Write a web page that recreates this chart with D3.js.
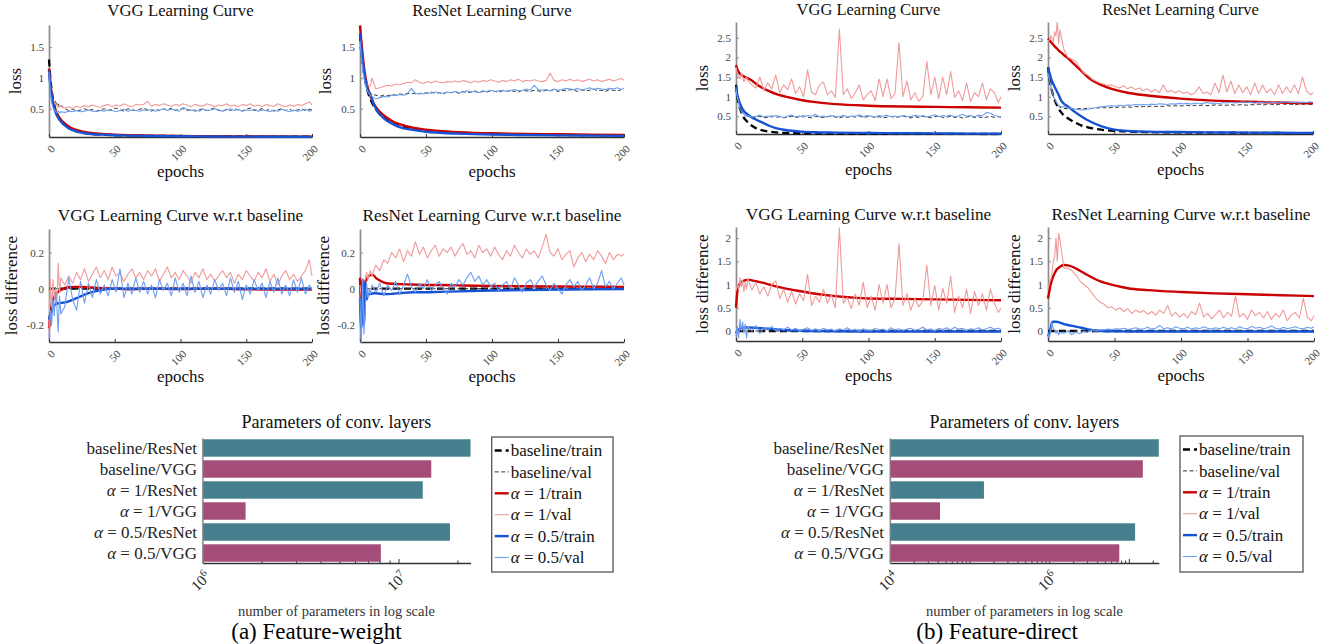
<!DOCTYPE html>
<html><head><meta charset="utf-8">
<script src="https://cdn.jsdelivr.net/npm/d3@7"></script>
<style>
body{margin:0;background:#fff;}
svg{display:block;font-family:"Liberation Serif","Times New Roman",serif;}
text{white-space:pre;}
</style></head><body>
<svg id="c" width="1325" height="644"></svg>
<script>
// ---------------- DATA ----------------
const trainEpochs = [0,1,2,3,4,5,6,8,10,12,15,20,25,30,40,50,60,75,100,125,150,175,200];
const valEpochs = [0,1,2,3,4,5,6,7,8,9,12,15,18,21,24,27,30,33,36,39,42,45,48,51,54,57,60,63,66,69,72,75,78,81,84,87,90,93,96,99,102,105,108,111,114,117,120,123,126,129,132,135,138,141,144,147,150,153,156,159,162,165,168,171,174,177,180,183,186,189,192,195,198,200];
const diffBaseEpochs = [0,200];
const diffBaseValues = [0,0];
const xTickValues = [0,50,100,150,200];

// (a) Feature-weight, VGG
const fwVggTrainBase = [1.3,1.0,0.8,0.66,0.56,0.48,0.42,0.34,0.28,0.24,0.19,0.14,0.11,0.095,0.08,0.07,0.065,0.06,0.055,0.05,0.048,0.046,0.045];
const fwVggTrainA1 = [1.15,0.92,0.75,0.63,0.54,0.47,0.42,0.35,0.3,0.26,0.21,0.16,0.13,0.11,0.09,0.078,0.07,0.063,0.057,0.052,0.049,0.047,0.045];
const fwVggTrainA05 = [1.12,0.88,0.72,0.6,0.51,0.44,0.39,0.32,0.27,0.23,0.18,0.135,0.11,0.093,0.078,0.068,0.062,0.057,0.052,0.048,0.046,0.044,0.042];
const fwVggValBase = [1.1,0.85,0.7,0.65,0.6,0.62,0.55,0.58,0.52,0.55, 0.50,0.47,0.49,0.46,0.48,0.50,0.47,0.49,0.46,0.48, 0.50,0.47,0.49,0.51,0.48,0.46,0.50,0.48,0.47,0.49, 0.51,0.48,0.46,0.49,0.47,0.50,0.48,0.51,0.47,0.49, 0.50,0.47,0.49,0.46,0.48,0.50,0.47,0.49,0.51,0.48, 0.46,0.49,0.47,0.50,0.48,0.46,0.49,0.51,0.47,0.48, 0.50,0.47,0.49,0.46,0.48,0.50,0.47,0.49,0.46,0.48, 0.50,0.47,0.49,0.48];
const fwVggValA1 = [1.1,0.8,0.75,0.65,0.6,0.58,0.55,0.52,0.55,0.53, 0.51,0.53,0.50,0.54,0.52,0.55,0.53,0.56,0.54,0.52, 0.55,0.57,0.53,0.56,0.54,0.58,0.55,0.53,0.57,0.56, 0.57,0.62,0.54,0.57,0.55,0.58,0.56,0.54,0.57,0.55, 0.58,0.56,0.53,0.57,0.55,0.54,0.58,0.56,0.53,0.56, 0.55,0.58,0.54,0.56,0.53,0.57,0.55,0.58,0.54,0.56, 0.53,0.57,0.55,0.54,0.58,0.55,0.53,0.56,0.54,0.57, 0.55,0.58,0.61,0.56];
const fwVggValA05 = [1.1,0.75,0.6,0.52,0.48,0.45,0.44,0.46,0.43,0.45, 0.44,0.46,0.45,0.47,0.45,0.46,0.48,0.46,0.45,0.47, 0.46,0.48,0.47,0.45,0.47,0.49,0.46,0.48,0.47,0.46, 0.48,0.47,0.49,0.46,0.48,0.50,0.47,0.49,0.48,0.46, 0.52,0.49,0.47,0.48,0.46,0.49,0.47,0.48,0.50,0.47, 0.46,0.48,0.50,0.47,0.49,0.46,0.48,0.47,0.49,0.46, 0.48,0.47,0.45,0.48,0.46,0.49,0.47,0.45,0.48,0.46, 0.47,0.49,0.46,0.47];

// (a) Feature-weight, ResNet
const fwResTrainBase = [1.7,1.45,1.25,1.08,0.95,0.85,0.77,0.65,0.56,0.49,0.41,0.32,0.26,0.22,0.17,0.14,0.12,0.105,0.09,0.08,0.075,0.07,0.065];
const fwResTrainA1 = [1.85,1.6,1.38,1.18,1.03,0.92,0.83,0.7,0.6,0.53,0.45,0.36,0.29,0.25,0.19,0.16,0.14,0.12,0.1,0.09,0.085,0.078,0.072];
const fwResTrainA05 = [1.72,1.5,1.3,1.12,0.98,0.87,0.78,0.73,0.6,0.5,0.41,0.31,0.25,0.2,0.155,0.125,0.11,0.095,0.08,0.072,0.066,0.062,0.058];
const fwResValBase = [1.5,1.3,1.15,1.0,0.9,0.85,0.8,0.78,0.75,0.73, 0.72,0.70,0.72,0.71,0.73,0.72,0.74,0.73,0.75,0.74, 0.75,0.74,0.76,0.75,0.77,0.75,0.76,0.74,0.77,0.76, 0.77,0.75,0.78,0.76,0.77,0.79,0.76,0.78,0.77,0.79, 0.78,0.77,0.79,0.78,0.80,0.78,0.77,0.80,0.79,0.78, 0.80,0.79,0.78,0.80,0.79,0.81,0.78,0.80,0.79,0.81, 0.80,0.78,0.81,0.79,0.80,0.82,0.79,0.80,0.78,0.81, 0.80,0.79,0.81,0.80];
const fwResValA1 = [1.6,1.4,1.2,1.1,0.98,0.92,0.88,0.86,0.88,1.0, 0.82,0.84,0.86,0.88,0.87,0.90,0.89,0.91,0.93,0.92, 0.97,0.93,0.91,0.94,0.92,0.95,0.93,0.92,0.94,0.93, 0.95,0.93,0.96,0.94,0.92,0.95,0.93,0.96,0.94,0.97, 0.95,0.93,0.96,0.94,0.97,0.95,0.98,0.94,0.96,0.95, 0.97,0.95,0.94,0.96,1.08,0.96,0.94,0.97,0.95,0.98, 0.95,0.97,0.94,0.96,0.98,0.95,0.97,0.94,0.96,0.98, 0.95,0.97,0.99,0.96];
const fwResValA05 = [1.6,1.35,1.15,1.0,0.9,0.82,0.77,0.75,0.72,0.7, 0.66,0.68,0.70,0.69,0.72,0.71,0.73,0.72,0.74,0.83, 0.74,0.75,0.74,0.76,0.75,0.77,0.76,0.75,0.77,0.76, 0.78,0.76,0.77,0.79,0.77,0.78,0.76,0.79,0.78,0.80, 0.78,0.79,0.80,0.78,0.79,0.81,0.79,0.80,0.82,0.80, 0.88,0.81,0.80,0.81,0.79,0.82,0.80,0.81,0.83,0.82, 0.81,0.83,0.80,0.82,0.84,0.81,0.83,0.82,0.81,0.83, 0.82,0.84,0.81,0.83];

// (a) Feature-weight, differences w.r.t. baseline
const fwVggDiffTrainA1 = [-0.22,-0.14,-0.09,-0.06,-0.045,-0.035,-0.025,-0.012,-0.004,0.003,0.008,0.01,0.01,0.008,0.002,0,-0.003,0,-0.002,0,-0.003,-0.005,-0.005];
const fwVggDiffTrainA05 = [-0.17,-0.14,-0.12,-0.1,-0.092,-0.087,-0.083,-0.08,-0.078,-0.076,-0.07,-0.055,-0.04,-0.025,-0.008,0,0,0,0,0,0,0,0];
const fwVggDiffValA1 = [-0.24,0.05,-0.12,0.05,-0.05,0.0,-0.08,0.14,-0.02,0.06, 0.02,0.07,0.03,0.09,0.05,0.11,0.04,0.08,0.12,0.06, 0.1,0.05,0.12,0.07,0.09,0.04,0.08,0.11,0.06,0.09, 0.05,0.1,0.07,0.11,0.04,0.08,0.12,0.06,0.09,0.05, 0.1,0.07,0.03,0.09,0.06,0.11,0.05,0.08,0.04,0.07, 0.1,0.06,0.09,0.03,0.08,0.05,0.1,0.07,0.04,0.09, 0.06,0.11,0.04,0.08,0.02,0.07,0.1,0.05,0.08,0.04, 0.07,0.1,0.16,0.07];
const fwVggDiffValA05 = [-0.28,-0.12,-0.2,-0.06,-0.15,-0.02,-0.1,-0.24,-0.04,-0.14, -0.1,0.06,-0.06,-0.12,0.04,-0.08,0.03,-0.05,0.05,-0.03, 0.02,-0.04,0.05,-0.02,0.11,-0.05,0.03,-0.03,0.06,-0.02, 0.04,-0.03,0.02,-0.05,0.05,-0.01,0.03,-0.04,0.06,-0.02, 0.03,-0.04,0.07,-0.02,0.04,-0.05,0.02,-0.03,0.05,-0.01, 0.03,-0.04,0.06,-0.02,0.04,-0.06,0.02,-0.03,0.05,-0.01, 0.03,-0.05,0.04,-0.02,0.06,-0.03,0.02,-0.04,0.05,-0.02, 0.06,-0.03,0.02,-0.01];
const fwResDiffTrainA1 = [0.06,-0.1,0.05,-0.05,0.04,0.05,0.065,0.075,0.075,0.06,0.045,0.03,0.027,0.025,0.023,0.02,0.02,0.018,0.015,0.013,0.012,0.011,0.01];
const fwResDiffTrainA05 = [-0.05,-0.22,0.05,-0.2,0.04,-0.06,-0.03,-0.03,-0.025,-0.025,-0.028,-0.03,-0.028,-0.025,-0.02,-0.02,-0.018,-0.015,-0.01,-0.007,-0.005,-0.003,-0.002];
const fwResDiffValA1 = [0.02,-0.05,0.05,0.0,0.06,0.09,0.05,0.08,0.1,0.07, 0.13,0.1,0.16,0.14,0.2,0.17,0.22,0.15,0.21,0.18, 0.26,0.19,0.23,0.17,0.21,0.24,0.18,0.22,0.2,0.23, 0.18,0.22,0.25,0.19,0.21,0.17,0.24,0.2,0.22,0.18, 0.23,0.19,0.16,0.21,0.18,0.24,0.2,0.17,0.22,0.19, 0.21,0.17,0.23,0.3,0.2,0.18,0.22,0.16,0.19,0.21, 0.12,0.17,0.2,0.15,0.19,0.16,0.21,0.18,0.14,0.2, 0.16,0.19,0.18,0.19];
const fwResDiffValA05 = [-0.05,-0.3,0.05,-0.25,-0.1,0.03,-0.05,0.0,-0.03,0.02, -0.02,0.03,-0.04,0.02,-0.01,0.04,-0.03,0.02,0.08,0.01, -0.02,0.03,0.0,0.05,-0.01,0.02,0.04,0.0,-0.03,0.03, 0.01,0.05,0.02,0.06,0.09,0.04,0.07,0.02,0.05,0.01, 0.03,-0.01,0.02,0.04,0.0,0.06,0.02,-0.02,0.03,0.05, 0.01,0.04,0.07,0.02,-0.01,0.03,0.0,-0.03,0.02,0.05, 0.01,0.04,-0.01,0.02,0.06,0.0,0.03,0.1,0.01,0.04, 0.0,0.03,0.06,0.02];

// (b) Feature-direct, VGG
const fdVggTrainBase = [1.3,1.0,0.82,0.7,0.6,0.52,0.46,0.38,0.31,0.26,0.2,0.14,0.11,0.09,0.075,0.068,0.064,0.06,0.056,0.053,0.052,0.051,0.05];
const fdVggTrainA1 = [1.8,1.7,1.63,1.58,1.55,1.53,1.51,1.48,1.45,1.41,1.33,1.22,1.14,1.07,0.98,0.91,0.86,0.81,0.77,0.75,0.74,0.73,0.72];
const fdVggTrainA05 = [1.25,1.05,0.92,0.82,0.74,0.68,0.63,0.57,0.52,0.47,0.42,0.34,0.26,0.2,0.14,0.11,0.095,0.085,0.075,0.07,0.065,0.06,0.058];
const fdVggValBase = [1.3,1.0,0.85,0.72,0.65,0.6,0.56,0.53,0.52,0.5, 0.49,0.47,0.5,0.46,0.48,0.51,0.47,0.49,0.46,0.48, 0.5,0.47,0.49,0.51,0.48,0.46,0.5,0.48,0.47,0.49, 0.51,0.48,0.46,0.49,0.47,0.5,0.48,0.51,0.47,0.49, 0.5,0.47,0.49,0.46,0.48,0.5,0.47,0.49,0.51,0.48, 0.46,0.49,0.47,0.5,0.48,0.46,0.49,0.51,0.47,0.48, 0.5,0.47,0.49,0.46,0.48,0.5,0.47,0.49,0.46,0.48, 0.5,0.47,0.49,0.48];
const fdVggValA1 = [1.75,1.6,1.5,1.45,1.6,1.5,1.38,1.45,1.5,1.4, 1.3,1.22,1.5,1.15,1.35,1.2,1.55,1.1,1.3,1.18, 1.45,1.08,1.25,1.0,1.68,1.12,1.05,1.3,1.37,1.05, 1.15,0.98,2.72,1.05,1.2,0.95,1.1,1.3,0.92,1.05, 1.15,0.9,1.45,1.0,1.45,0.95,1.08,2.38,1.0,1.4, 0.92,1.1,0.88,1.0,1.9,1.05,1.5,0.95,1.5,1.05, 1.64,0.98,1.15,0.9,1.35,0.88,1.1,1.0,1.35,0.92, 1.2,1.1,0.85,1.0];
const fdVggValA05 = [1.2,1.0,0.85,0.7,0.62,0.58,0.55,0.52,0.5,0.52, 0.48,0.5,0.53,0.49,0.51,0.48,0.52,0.5,0.47,0.51, 0.53,0.49,0.51,0.48,0.52,0.5,0.55,0.49,0.51,0.48, 0.52,0.5,0.49,0.53,0.48,0.51,0.5,0.54,0.49,0.52, 0.5,0.48,0.52,0.5,0.53,0.49,0.51,0.48,0.52,0.5, 0.49,0.53,0.5,0.52,0.48,0.51,0.54,0.49,0.52,0.5, 0.53,0.49,0.51,0.55,0.5,0.52,0.49,0.53,0.51,0.6, 0.58,0.52,0.5,0.49];

// (b) Feature-direct, ResNet
const fdResTrainBase = [1.75,1.5,1.3,1.15,1.02,0.92,0.84,0.7,0.6,0.52,0.45,0.35,0.27,0.22,0.16,0.13,0.115,0.1,0.09,0.085,0.08,0.075,0.07];
const fdResTrainA1 = [2.48,2.44,2.4,2.36,2.32,2.28,2.25,2.18,2.12,2.06,1.98,1.82,1.66,1.5,1.3,1.18,1.1,1.03,0.95,0.9,0.87,0.85,0.83];
const fdResTrainA05 = [1.75,1.62,1.5,1.4,1.32,1.25,1.18,1.05,0.9,0.82,0.75,0.62,0.5,0.4,0.25,0.16,0.13,0.11,0.1,0.09,0.085,0.08,0.075];
const fdResValBase = [1.55,1.4,1.25,1.1,1.0,0.92,0.85,0.8,0.76,0.73, 0.7,0.69,0.7,0.68,0.7,0.69,0.71,0.7,0.72,0.71, 0.72,0.71,0.73,0.72,0.74,0.73,0.74,0.73,0.75,0.74, 0.75,0.74,0.76,0.75,0.76,0.75,0.77,0.76,0.77,0.76, 0.77,0.78,0.76,0.78,0.77,0.79,0.77,0.78,0.79,0.78, 0.79,0.78,0.8,0.78,0.79,0.8,0.78,0.8,0.79,0.81, 0.79,0.8,0.81,0.79,0.8,0.82,0.8,0.81,0.79,0.81, 0.8,0.82,0.8,0.81];
const fdResValA1 = [2.4,2.45,2.55,2.5,2.4,2.65,2.55,2.9,2.35,2.7, 2.2,2.0,1.95,1.9,1.75,1.6,1.55,1.45,1.4,1.35, 1.32,1.28,1.3,1.25,1.22,1.28,1.2,1.25,1.18,1.22, 1.15,1.2,1.12,1.18,1.1,1.3,1.12,1.16,1.1,1.15, 1.08,1.12,1.05,1.1,1.25,1.08,1.12,1.05,1.35,1.1, 1.55,1.12,1.4,1.08,1.3,1.1,1.25,1.05,1.35,1.08, 1.3,1.1,1.2,1.05,1.3,1.08,1.25,1.1,1.3,1.08, 1.5,1.15,1.05,1.1];
const fdResValA05 = [1.6,1.45,1.3,1.15,1.02,0.95,0.88,0.82,0.78,0.75, 0.74,0.72,0.7,0.68,0.67,0.66,0.68,0.7,0.72,0.74, 0.75,0.76,0.77,0.76,0.78,0.77,0.79,0.78,0.8,0.79, 0.8,0.79,0.81,0.8,0.82,0.81,0.8,0.82,0.81,0.83, 0.82,0.83,0.81,0.84,0.82,0.83,0.85,0.83,0.84,0.82, 0.85,0.84,0.86,0.84,0.85,0.87,0.85,0.86,0.84,0.86, 0.85,0.87,0.85,0.86,0.84,0.86,0.87,0.85,0.86,0.84, 0.86,0.85,0.87,0.85];

// (b) Feature-direct, differences w.r.t. baseline
const fdVggDiffTrainA1 = [0.5,0.85,0.97,1.02,1.05,1.07,1.08,1.1,1.1,1.09,1.07,1.04,1.0,0.96,0.9,0.85,0.8,0.75,0.7,0.69,0.68,0.67,0.66];
const fdVggDiffTrainA05 = [-0.05,0.0,0.03,0.05,0.06,0.065,0.07,0.075,0.075,0.072,0.068,0.06,0.048,0.035,0.015,0.005,0.0,-0.005,-0.01,-0.01,-0.01,-0.012,-0.012];
const fdVggDiffValA1 = [0.85,1.0,0.9,1.15,0.95,1.1,0.85,1.05,0.9,1.12, 0.88,1.05,0.8,0.95,0.75,1.0,1.08,0.7,0.9,0.62, 0.85,0.58,0.8,0.65,1.22,0.55,0.75,0.62,0.9,0.6, 0.78,0.5,2.22,0.6,0.72,0.48,0.8,0.55,1.05,0.5, 0.75,0.45,1.0,0.6,1.0,0.5,0.7,1.88,0.55,0.8, 0.45,0.7,0.52,0.65,1.42,0.55,0.98,0.45,0.92,0.6, 1.18,0.4,0.75,0.5,0.9,0.38,0.85,0.55,0.8,0.45, 0.9,0.6,0.4,0.5];
const fdVggDiffValA05 = [-0.1,0.1,-0.15,0.25,0.0,0.2,-0.05,0.15,-0.15,0.1, 0.0,0.12,-0.05,0.08,0.02,0.1,0.0,0.06,0.03,0.08, 0.02,0.06,0.0,0.04,0.07,0.01,0.05,0.0,0.06,0.02, 0.04,0.0,0.05,0.02,0.07,0.01,0.04,-0.01,0.05,0.02, 0.0,0.06,0.02,0.04,0.0,0.07,0.02,0.05,0.01,0.04, 0.06,0.01,0.04,0.08,0.02,0.05,0.0,0.06,0.03,0.07, 0.02,0.08,0.04,0.06,0.01,0.05,0.03,0.07,0.02,0.05, 0.08,0.04,0.06,0.03];
const fdResDiffTrainA1 = [0.7,0.85,1.0,1.1,1.18,1.24,1.3,1.36,1.4,1.42,1.41,1.36,1.28,1.2,1.06,0.98,0.92,0.88,0.84,0.81,0.79,0.77,0.75];
const fdResDiffTrainA05 = [-0.12,-0.05,0.05,0.18,0.2,0.2,0.2,0.19,0.17,0.15,0.13,0.1,0.07,0.035,0.0,-0.005,-0.01,-0.01,-0.01,-0.01,-0.01,-0.01,-0.01];
const fdResDiffValA1 = [0.9,1.05,1.1,1.25,1.5,1.6,2.0,1.5,2.1,1.95, 1.35,1.35,1.3,1.2,1.08,1.0,0.93,0.82,0.7,0.62, 0.58,0.5,0.52,0.45,0.5,0.42,0.48,0.38,0.45,0.4, 0.44,0.36,0.42,0.34,0.45,0.38,0.55,0.32,0.4,0.3, 0.38,0.28,0.42,0.35,0.6,0.3,0.38,0.26,0.35,0.45, 0.28,0.4,0.32,0.75,0.3,0.38,0.25,0.45,0.33,0.4, 0.28,0.42,0.25,0.38,0.3,0.45,0.22,0.35,0.4,0.28, 0.7,0.3,0.22,0.33];
const fdResDiffValA05 = [-0.05,-0.15,0.0,0.18,0.05,0.02,-0.05,0.0,-0.08,-0.03, -0.05,0.0,-0.08,-0.02,-0.06,0.0,-0.03,0.02,0.0,0.03, 0.02,0.04,0.03,0.05,0.04,0.06,0.03,0.05,0.07,0.04, 0.05,0.08,0.04,0.06,0.12,0.05,0.07,0.04,0.09,0.06, 0.05,0.08,0.04,0.07,0.05,0.09,0.06,0.04,0.07,0.05, 0.08,0.05,0.07,0.04,0.09,0.06,0.05,0.1,0.06,0.08, 0.05,0.07,0.11,0.06,0.04,0.08,0.05,0.07,0.09,0.06, 0.05,0.08,0.06,0.09];

// Bar charts: number of conv-layer parameters
const barCategories = ["baseline/ResNet","baseline/VGG","α = 1/ResNet","α = 1/VGG","α = 0.5/ResNet","α = 0.5/VGG"];
const fwParams = [2.33e7,1.47e7,1.33e7,1.66e6,1.83e7,8.13e6];
const fdParams = [2.38e7,1.5e7,1.52e5,4.27e4,1.2e7,7.6e6];
const fwLogTickLabels = [6,7];
const fdLogTickLabels = [4,6];

const legendKeys = ["baseTrain","baseVal","a1Train","a1Val","a05Train","a05Val"];
const legendLabels = ["baseline/train","baseline/val","α = 1/train","α = 1/val","α = 0.5/train","α = 0.5/val"];

// ---------------- STYLES / LAYOUT ----------------
const sty = {
  baseTrain:{color:"#000000", w:2.3, dash:"7,4", train:true},
  baseVal:{color:"#333333", w:1, dash:"4,2.5", train:false},
  a1Train:{color:"#cc0000", w:2.4, dash:null, train:true},
  a1Val:{color:"#f09a9a", w:1.1, dash:null, train:false},
  a05Train:{color:"#1652d4", w:2.4, dash:null, train:true},
  a05Val:{color:"#6c9ef2", w:1.1, dash:null, train:false}
};
const FONT = '"Liberation Serif","Times New Roman",serif';
const svg = d3.select("#c");

const panels = [
  {title:"VGG Learning Curve", ylabel:"loss", box:[49,25,312,137], yDomain:[0.04,1.86], yTicks:[0.5,1,1.5], titleY:16, titleFS:16.8, xlabY:177, ylabX:21,
   series:[["baseTrain",trainEpochs,fwVggTrainBase],["baseVal",valEpochs,fwVggValBase],["a1Train",trainEpochs,fwVggTrainA1],["a1Val",valEpochs,fwVggValA1],["a05Train",trainEpochs,fwVggTrainA05],["a05Val",valEpochs,fwVggValA05]]},
  {title:"ResNet Learning Curve", ylabel:"loss", box:[360,25,624,137], yDomain:[0.04,1.86], yTicks:[0.5,1,1.5], titleY:16, titleFS:16.8, xlabY:177, ylabX:331,
   series:[["baseTrain",trainEpochs,fwResTrainBase],["baseVal",valEpochs,fwResValBase],["a1Train",trainEpochs,fwResTrainA1],["a1Val",valEpochs,fwResValA1],["a05Train",trainEpochs,fwResTrainA05],["a05Val",valEpochs,fwResValA05]]},
  {title:"VGG Learning Curve w.r.t baseline", ylabel:"loss difference", box:[49,229,312,342], yDomain:[-0.295,0.33], yTicks:[-0.2,0,0.2], titleY:221, titleFS:17.3, xlabY:382, ylabX:17,
   series:[["baseTrain",diffBaseEpochs,diffBaseValues],["baseVal",diffBaseEpochs,diffBaseValues],["a1Train",trainEpochs,fwVggDiffTrainA1],["a1Val",valEpochs,fwVggDiffValA1],["a05Train",trainEpochs,fwVggDiffTrainA05],["a05Val",valEpochs,fwVggDiffValA05]]},
  {title:"ResNet Learning Curve w.r.t baseline", ylabel:"loss difference", box:[360,229,624,342], yDomain:[-0.295,0.33], yTicks:[-0.2,0,0.2], titleY:221, titleFS:17.3, xlabY:382, ylabX:329,
   series:[["baseTrain",diffBaseEpochs,diffBaseValues],["baseVal",diffBaseEpochs,diffBaseValues],["a1Train",trainEpochs,fwResDiffTrainA1],["a1Val",valEpochs,fwResDiffValA1],["a05Train",trainEpochs,fwResDiffTrainA05],["a05Val",valEpochs,fwResDiffValA05]]},
  {title:"VGG Learning Curve", ylabel:"loss", box:[736,22,1001,134], yDomain:[0.05,2.9], yTicks:[0.5,1,1.5,2,2.5], titleY:15, titleFS:16.5, xlabY:175, ylabX:708,
   series:[["baseTrain",trainEpochs,fdVggTrainBase],["baseVal",valEpochs,fdVggValBase],["a1Train",trainEpochs,fdVggTrainA1],["a1Val",valEpochs,fdVggValA1],["a05Train",trainEpochs,fdVggTrainA05],["a05Val",valEpochs,fdVggValA05]]},
  {title:"ResNet Learning Curve", ylabel:"loss", box:[1048,22,1313,134], yDomain:[0.05,2.9], yTicks:[0.5,1,1.5,2,2.5], titleY:15, titleFS:16.5, xlabY:175, ylabX:1020,
   series:[["baseTrain",trainEpochs,fdResTrainBase],["baseVal",valEpochs,fdResValBase],["a1Train",trainEpochs,fdResTrainA1],["a1Val",valEpochs,fdResValA1],["a05Train",trainEpochs,fdResTrainA05],["a05Val",valEpochs,fdResValA05]]},
  {title:"VGG Learning Curve w.r.t baseline", ylabel:"loss difference", box:[736,227,1001,341], yDomain:[-0.215,2.237], yTicks:[0,0.5,1,1.5,2], titleY:220, titleFS:17.3, xlabY:381, ylabX:708,
   series:[["baseTrain",diffBaseEpochs,diffBaseValues],["baseVal",diffBaseEpochs,diffBaseValues],["a1Train",trainEpochs,fdVggDiffTrainA1],["a1Val",valEpochs,fdVggDiffValA1],["a05Train",trainEpochs,fdVggDiffTrainA05],["a05Val",valEpochs,fdVggDiffValA05]]},
  {title:"ResNet Learning Curve w.r.t baseline", ylabel:"loss difference", box:[1048,227,1314,341], yDomain:[-0.215,2.237], yTicks:[0,0.5,1,1.5,2], titleY:220, titleFS:17.3, xlabY:381, ylabX:1020,
   series:[["baseTrain",diffBaseEpochs,diffBaseValues],["baseVal",diffBaseEpochs,diffBaseValues],["a1Train",trainEpochs,fdResDiffTrainA1],["a1Val",valEpochs,fdResDiffValA1],["a05Train",trainEpochs,fdResDiffTrainA05],["a05Val",valEpochs,fdResDiffValA05]]}
];

function alphaText(sel, str){
  const parts = str.split("α");
  if(parts.length>1){
    sel.append("tspan").attr("font-style","italic").text("α");
    sel.append("tspan").text(parts[1]);
  } else sel.text(str);
}

panels.forEach((p,pi)=>{
  const [x0,y0,x1,y1] = p.box;
  const x = d3.scaleLinear().domain([0,200]).range([x0,x1]);
  const y = d3.scaleLinear().domain(p.yDomain).range([y1,y0]);
  const g = svg.append("g");
  const cid = "clip"+pi;
  svg.append("clipPath").attr("id",cid).append("rect").attr("x",x0-2).attr("y",y0).attr("width",x1-x0+3).attr("height",y1-y0+1.5);

  const ya = g.append("g").attr("transform",`translate(${x0},0)`)
    .call(d3.axisLeft(y).tickValues(p.yTicks).tickSize(-3).tickSizeOuter(0).tickPadding(5).tickFormat(d=>String(d)));
  ya.attr("font-family",FONT).attr("font-size",11);
  ya.select(".domain").attr("stroke","#8c8c8c").attr("stroke-width",1.7);
  ya.selectAll(".tick line").attr("stroke","#8c8c8c");
  ya.selectAll(".tick text").attr("fill","#444");

  const xa = g.append("g").attr("transform",`translate(0,${y1})`)
    .call(d3.axisBottom(x).tickValues(xTickValues).tickSize(-3).tickSizeOuter(0).tickFormat(d=>String(d)));
  xa.attr("font-family",FONT).attr("font-size",11);
  xa.select(".domain").attr("stroke","#333").attr("stroke-width",1.5);
  xa.selectAll(".tick line").attr("stroke","#333");
  xa.selectAll(".tick text").attr("fill","#444").attr("y",null).attr("dy","0.35em")
    .attr("text-anchor","end").attr("transform","translate(3.5,10) rotate(-45)");

  const lg = g.append("g").attr("clip-path",`url(#${cid})`);
  p.series.forEach(([key,ep,vals])=>{
    const s = sty[key];
    const pts = ep.map((e,i)=>[e,vals[i]]).filter(d=>d[1]!==undefined);
    const line = d3.line().x(d=>x(d[0])).y(d=>y(d[1])).curve(s.train?d3.curveMonotoneX:d3.curveLinear);
    lg.append("path").attr("d",line(pts)).attr("fill","none").attr("stroke",s.color)
      .attr("stroke-width",s.w).attr("stroke-dasharray",s.dash).attr("stroke-linejoin","round");
  });

  g.append("text").attr("x",(x0+x1)/2).attr("y",p.titleY).attr("text-anchor","middle")
    .attr("font-family",FONT).attr("font-size",p.titleFS).attr("fill","#111").text(p.title);
  g.append("text").attr("x",(x0+x1)/2).attr("y",p.xlabY).attr("text-anchor","middle")
    .attr("font-family",FONT).attr("font-size",17).attr("fill","#111").text("epochs");
  g.append("text").attr("transform",`translate(${p.ylabX},${(y0+y1)/2}) rotate(-90)`).attr("text-anchor","middle")
    .attr("font-family",FONT).attr("font-size",17).attr("fill","#111").text(p.ylabel);
});

// ---------------- BAR CHARTS ----------------
const barCharts = [
  {values:fwParams, minPow:6, labels:fwLogTickLabels, x0:202.4, x1:470.5, y0:437.5, y1:563, labelX:197, titleX:336.5, legX:491.7, legY:437, legW:121.3, legH:135},
  {values:fdParams, minPow:4, labels:fdLogTickLabels, x0:889.8, x1:1158.8, y0:437.5, y1:563, labelX:884, titleX:1024.5, legX:1180, legY:436, legW:123, legH:136}
];
const barColor = c => c.indexOf("ResNet")>=0 ? "#46808e" : "#a44d78";

barCharts.forEach(bc=>{
  const maxV = d3.max(bc.values);
  const x = d3.scaleLog().domain([Math.pow(10,bc.minPow), maxV]).range([bc.x0,bc.x1]);
  const y = d3.scaleBand().domain(barCategories).range([bc.y0+0.5,bc.y1]).paddingInner(0.17).paddingOuter(0.06);
  const g = svg.append("g");

  const minor = [], major = [];
  for(let p=bc.minPow; Math.pow(10,p)<=maxV; p++){
    major.push(Math.pow(10,p));
    for(let k=2;k<=9;k++){ const v=k*Math.pow(10,p); if(v<=maxV) minor.push(v); }
  }
  const xmin = g.append("g").attr("transform",`translate(0,${bc.y1})`)
    .call(d3.axisBottom(x).tickValues(minor).tickSize(-2.5).tickSizeOuter(0).tickFormat(""));
  xmin.select(".domain").attr("stroke","#333").attr("stroke-width",1.5);
  xmin.selectAll(".tick line").attr("stroke","#333");
  const xmaj = g.append("g").attr("transform",`translate(0,${bc.y1})`)
    .call(d3.axisBottom(x).tickValues(major).tickSize(-4).tickSizeOuter(0).tickFormat(""));
  xmaj.select(".domain").remove();
  xmaj.selectAll(".tick line").attr("stroke","#333");
  xmaj.selectAll(".tick").each(function(d){
    const e = Math.round(Math.log10(d));
    if(bc.labels.indexOf(e)<0) return;
    const t = d3.select(this).append("text").attr("fill","#222").attr("font-family",FONT).attr("font-size",15)
      .attr("text-anchor","end").attr("dy","0.35em").attr("transform","translate(5,11) rotate(-45)");
    t.append("tspan").text("10");
    t.append("tspan").attr("font-size",10.5).attr("dy","-0.55em").text(String(e));
  });

  const ya = g.append("g").attr("transform",`translate(${bc.x0},0)`)
    .call(d3.axisLeft(y).tickSize(0).tickSizeOuter(0).tickFormat(""));
  ya.select(".domain").attr("stroke","#8c8c8c").attr("stroke-width",1.6);

  g.selectAll("rect.bar").data(barCategories.map((c,i)=>[c,bc.values[i]])).enter().append("rect")
    .attr("class","bar").attr("x",bc.x0+0.8).attr("y",d=>y(d[0])).attr("height",y.bandwidth())
    .attr("width",d=>x(d[1])-bc.x0-0.8).attr("fill",d=>barColor(d[0]));

  barCategories.forEach(c=>{
    const t = g.append("text").attr("x",bc.labelX).attr("y",y(c)+y.bandwidth()/2).attr("dy","0.33em")
      .attr("text-anchor","end").attr("font-family",FONT).attr("font-size",17).attr("fill","#222");
    alphaText(t,c);
  });

  g.append("text").attr("x",bc.titleX).attr("y",427.7).attr("text-anchor","middle")
    .attr("font-family",FONT).attr("font-size",18).attr("fill","#111").text("Parameters of conv. layers");
  g.append("text").attr("x",bc.titleX).attr("y",616).attr("text-anchor","middle")
    .attr("font-family",FONT).attr("font-size",14.5).attr("fill","#333").text("number of parameters in log scale");

  const lgd = g.append("g");
  lgd.append("rect").attr("x",bc.legX).attr("y",bc.legY).attr("width",bc.legW).attr("height",bc.legH)
    .attr("fill","#fff").attr("stroke","#555").attr("stroke-width",1.3);
  legendKeys.forEach((k,i)=>{
    const s = sty[k];
    const cy = bc.legY + 13.5 + i*21.4;
    lgd.append("line").attr("x1",bc.legX+3).attr("x2",bc.legX+17).attr("y1",cy).attr("y2",cy)
      .attr("stroke",s.color).attr("stroke-width",s.w).attr("stroke-dasharray",s.dash);
    const t = lgd.append("text").attr("x",bc.legX+19).attr("y",cy).attr("dy","0.33em")
      .attr("font-family",FONT).attr("font-size",17).attr("fill","#111");
    alphaText(t,legendLabels[i]);
  });
});

// subcaptions
svg.append("text").attr("x",316.5).attr("y",638.5).attr("text-anchor","middle").attr("font-family",FONT)
  .attr("font-size",23).attr("fill","#000").text("(a) Feature-weight");
svg.append("text").attr("x",997).attr("y",638.5).attr("text-anchor","middle").attr("font-family",FONT)
  .attr("font-size",23).attr("fill","#000").text("(b) Feature-direct");
</script>
</body></html>
